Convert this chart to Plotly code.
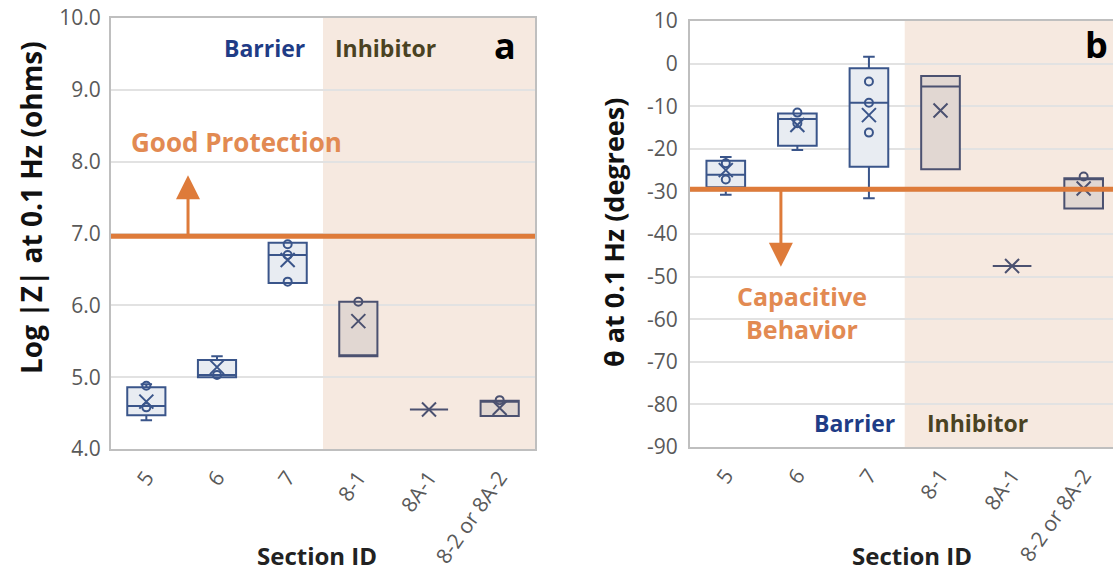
import plotly.graph_objects as go

# ---------------- data ----------------
sections = ["5", "6", "7", "8-1", "8A-1", "8-2 or 8A-2"]
barrier_sections = ["5", "6", "7"]
inhibitor_sections = ["8-1", "8A-1", "8-2 or 8A-2"]

# Panel a: Log|Z| at 0.1 Hz
z_lower = [4.40, 5.00, 6.31, 5.29, 4.55, 4.46]
z_q1 = [4.47, 5.00, 6.31, 5.29, 4.55, 4.46]
z_median = [4.60, 5.03, 6.70, 5.30, 4.55, 4.67]
z_q3 = [4.86, 5.24, 6.87, 6.05, 4.55, 4.67]
z_upper = [4.90, 5.29, 6.87, 6.05, 4.55, 4.67]
z_mean = [4.66, 5.14, 6.63, 5.78, 4.55, 4.57]
z_pts_x = ["5", "5", "6", "7", "7", "7", "8-1", "8-2 or 8A-2"]
z_pts_y = [4.88, 4.58, 5.03, 6.85, 6.70, 6.33, 6.05, 4.68]
z_ticks = [4, 5, 6, 7, 8, 9, 10]
z_ticklabels = ["4.0", "5.0", "6.0", "7.0", "8.0", "9.0", "10.0"]

# Panel b: theta at 0.1 Hz
t_lower = [-30.8, -20.3, -31.6, -24.8, -47.5, -34.0]
t_q1 = [-29.0, -19.3, -24.2, -24.8, -47.5, -34.0]
t_median = [-26.1, -13.0, -9.2, -5.4, -47.5, -27.0]
t_q3 = [-22.8, -11.7, -1.1, -2.9, -47.5, -26.9]
t_upper = [-21.9, -11.7, 1.6, -2.9, -47.5, -26.9]
t_mean = [-25.0, -14.4, -12.1, -11.0, -47.5, -29.3]
t_pts_x = ["5", "5", "6", "6", "7", "7", "7", "8-2 or 8A-2"]
t_pts_y = [-23.4, -27.2, -11.5, -14.0, -4.2, -9.2, -16.2, -26.5]
t_ticks = [10, 0, -10, -20, -30, -40, -50, -60, -70, -80, -90]
t_ticklabels = ["10", "0", "-10", "-20", "-30", "-40", "-50", "-60",
                "-70", "-80", "-90"]

good_protection_level = 6.96
capacitive_level = -29.5

# ---------------- styles ----------------
BAR_LINE = "#3A558A"
BAR_FILL = "#E8ECF2"
INH_LINE = "#4B5170"
INH_FILL = "#E1D7D2"
SHADE = "#F6E9E0"
ORANGE = "#DE7B3A"
ORANGE_TXT = "#E28A52"
BARRIER_TXT = "#1F3C86"
INHIB_TXT = "#4A4222"
FONT = "Open Sans"

fig = go.Figure()


def add_panel(xa, ya, lower, q1, med, q3, upper, mean, px, py):
    for cats, lc, fc in ((barrier_sections, BAR_LINE, BAR_FILL),
                         (inhibitor_sections, INH_LINE, INH_FILL)):
        idx = [sections.index(c) for c in cats]
        fig.add_trace(go.Box(
            x=cats,
            lowerfence=[lower[i] for i in idx],
            q1=[q1[i] for i in idx],
            median=[med[i] for i in idx],
            q3=[q3[i] for i in idx],
            upperfence=[upper[i] for i in idx],
            boxpoints=False,
            line=dict(color=lc, width=2),
            fillcolor=fc,
            width=0.54,
            whiskerwidth=0.3,
            xaxis=xa, yaxis=ya,
            showlegend=False, hoverinfo="skip",
        ))
    mcol = [BAR_LINE if c in barrier_sections else INH_LINE for c in sections]
    fig.add_trace(go.Scatter(
        x=sections, y=mean, mode="markers",
        marker=dict(symbol="x-thin-open", size=14, color=mcol,
                    line=dict(width=2)),
        xaxis=xa, yaxis=ya, showlegend=False, hoverinfo="skip",
    ))
    pcol = [BAR_LINE if c in barrier_sections else INH_LINE for c in px]
    fig.add_trace(go.Scatter(
        x=px, y=py, mode="markers",
        marker=dict(symbol="circle-open", size=8, color=pcol,
                    line=dict(width=2)),
        xaxis=xa, yaxis=ya, showlegend=False, hoverinfo="skip",
    ))


add_panel("x", "y", z_lower, z_q1, z_median, z_q3, z_upper, z_mean, z_pts_x, z_pts_y)
add_panel("x2", "y2", t_lower, t_q1, t_median, t_q3, t_upper, t_mean, t_pts_x, t_pts_y)

W, H = 1113, 575
axis_common = dict(
    showline=True, linecolor="#BFBFBF", linewidth=2, automargin=False,
    ticks="", tickfont=dict(family=FONT, size=21, color="#595959"),
    zeroline=False,
)

fig.update_layout(
    width=W, height=H,
    margin=dict(l=0, r=0, t=0, b=0, autoexpand=False),
    paper_bgcolor="white", plot_bgcolor="white",
    boxmode="overlay",
    font=dict(family=FONT),
    xaxis=dict(domain=[111 / W, 535 / W], type="category",
               categoryorder="array", categoryarray=sections,
               range=[-0.5, 5.5], tickangle=-55, showgrid=False,
               mirror=True, anchor="y", ticklabelstandoff=6, **axis_common),
    yaxis=dict(domain=[1 - 449 / H, 1 - 18 / H], range=[4, 10],
               tickvals=z_ticks, ticktext=z_ticklabels,
               showgrid=True, gridcolor="#E2E2E2",
               gridwidth=1.5, mirror=True, anchor="x", ticklabelstandoff=4,
               **axis_common),
    xaxis2=dict(domain=[690 / W, 1.0], type="category",
                categoryorder="array", categoryarray=sections,
                range=[-0.5, 5.41], tickangle=-55, showgrid=False,
                mirror=True, anchor="y2", ticklabelstandoff=6, **axis_common),
    yaxis2=dict(domain=[1 - 447 / H, 1 - 21 / H], range=[-90, 10],
                tickvals=t_ticks, ticktext=t_ticklabels,
                showgrid=True, gridcolor="#E2E2E2", gridwidth=1.5,
                mirror=False, anchor="x2", ticklabelstandoff=6,
                **axis_common),
)

shapes = [
    dict(type="rect", xref="x", yref="y", x0=2.5, x1=5.5, y0=4, y1=10,
         fillcolor=SHADE, line=dict(width=0), layer="below"),
    dict(type="rect", xref="x2", yref="y2", x0=2.5, x1=5.41, y0=-90, y1=10,
         fillcolor=SHADE, line=dict(width=0), layer="below"),
    dict(type="line", xref="x domain", yref="y", x0=0, x1=1,
         y0=good_protection_level, y1=good_protection_level,
         line=dict(color=ORANGE, width=5), layer="above"),
    dict(type="line", xref="x2 domain", yref="y2", x0=0, x1=1,
         y0=capacitive_level, y1=capacitive_level,
         line=dict(color=ORANGE, width=5), layer="above"),
]
fig.update_layout(shapes=shapes)

ann = []
# arrows
ann.append(dict(xref="x", yref="y", axref="x", ayref="y",
                x=0.59, y=7.81, ax=0.59, ay=good_protection_level,
                showarrow=True, arrowhead=2, arrowsize=1.6, arrowwidth=3,
                arrowcolor=ORANGE, text=""))
ann.append(dict(xref="x2", yref="y2", axref="x2", ayref="y2",
                x=0.77, y=-47.7, ax=0.77, ay=capacitive_level,
                showarrow=True, arrowhead=2, arrowsize=1.6, arrowwidth=3,
                arrowcolor=ORANGE, text=""))
# panel a texts
ann.append(dict(xref="x", yref="y", x=-0.24, y=8.28, xanchor="left",
                yanchor="middle", text="<b>Good Protection</b>", showarrow=False,
                font=dict(size=26, color=ORANGE_TXT, family=FONT)))
ann.append(dict(xref="x", yref="y", x=2.27, y=9.58, xanchor="right",
                yanchor="middle", text="<b>Barrier</b>", showarrow=False,
                font=dict(size=23, color=BARRIER_TXT, family=FONT)))
ann.append(dict(xref="x", yref="y", x=2.64, y=9.58, xanchor="left",
                yanchor="middle", text="<b>Inhibitor</b>", showarrow=False,
                font=dict(size=23, color=INHIB_TXT, family=FONT)))
ann.append(dict(xref="x", yref="y", x=5.07, y=9.62, xanchor="center",
                yanchor="middle", text="<b>a</b>", showarrow=False,
                font=dict(size=36, color="black", family=FONT)))
# panel b texts
ann.append(dict(xref="x2", yref="y2", x=1.06, y=-58.5, xanchor="center",
                yanchor="middle", text="<b>Capacitive<br>Behavior</b>",
                showarrow=False,
                font=dict(size=25, color=ORANGE_TXT, family=FONT)))
ann.append(dict(xref="x2", yref="y2", x=2.39, y=-84.4, xanchor="right",
                yanchor="middle", text="<b>Barrier</b>", showarrow=False,
                font=dict(size=23, color=BARRIER_TXT, family=FONT)))
ann.append(dict(xref="x2", yref="y2", x=2.78, y=-84.4, xanchor="left",
                yanchor="middle", text="<b>Inhibitor</b>", showarrow=False,
                font=dict(size=23, color=INHIB_TXT, family=FONT)))
ann.append(dict(xref="x2", yref="y2", x=5.18, y=4.4, xanchor="center",
                yanchor="middle", text="<b>b</b>", showarrow=False,
                font=dict(size=36, color="black", family=FONT)))
# axis titles
for xc in (317, 912):
    ann.append(dict(xref="paper", yref="paper", x=xc / W, y=1 / H,
                    xanchor="center", yanchor="bottom",
                    text="<b>Section ID</b>", showarrow=False,
                    font=dict(size=24, color="#222222", family=FONT)))
ann.append(dict(xref="paper", yref="paper", x=31 / W, y=(H - 208) / H,
                xanchor="center", yanchor="middle",
                text="<b>Log |Z| at 0.1 Hz (ohms)</b>", showarrow=False,
                textangle=-90,
                font=dict(size=28, color="#111111", family=FONT)))
ann.append(dict(xref="paper", yref="paper", x=613 / W, y=(H - 233) / H,
                xanchor="center", yanchor="middle",
                text="<b>θ at 0.1 Hz (degrees)</b>", showarrow=False,
                textangle=-90,
                font=dict(size=27, color="#111111", family=FONT)))
fig.update_layout(annotations=ann)

fig.write_html("out.html")
